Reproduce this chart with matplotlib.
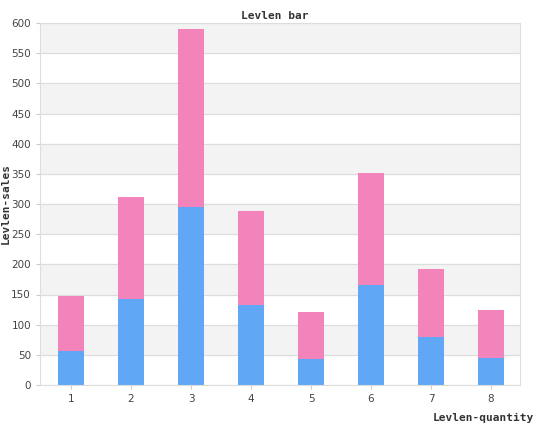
import matplotlib
matplotlib.use("Agg")
import matplotlib.pyplot as plt

quantity = [1, 2, 3, 4, 5, 6, 7, 8]
sales_a = [56, 143, 295, 133, 43, 166, 80, 44]
sales_b = [92, 169, 295, 156, 78, 186, 113, 81]

fig = plt.figure(figsize=(5.5, 4.25), dpi=100)
ax = fig.add_axes([40 / 550, 40 / 425, 480 / 550, 362 / 425])

for lo in range(50, 600, 100):
    ax.axhspan(lo, lo + 50, color="#f3f3f3", zorder=0)
for y in range(0, 601, 50):
    ax.axhline(y, color="#dddddd", lw=0.8, zorder=1)

ax.bar(quantity, sales_a, width=0.42, color="#60a8f5", zorder=2)
ax.bar(quantity, sales_b, width=0.42, bottom=sales_a, color="#f283bb", zorder=2)

ax.set_xlim(0.483, 8.483)
ax.set_ylim(0, 600)
ax.set_xticks(quantity)
ax.set_yticks(range(0, 601, 50))
ax.tick_params(labelsize=7.5, labelcolor="#444444", length=3, color="#cccccc")
for s in ax.spines.values():
    s.set_color("#dddddd")

fig.text(0.5, 0.975, "Levlen bar", ha="center", va="top", family="DejaVu Sans Mono",
         weight="bold", fontsize=8, color="#333333")
fig.text(0.97, 0.005, "Levlen-quantity", ha="right", va="bottom", family="DejaVu Sans Mono",
         weight="bold", fontsize=8, color="#333333")
fig.text(0.002, 0.52, "Levlen-sales", rotation=90, ha="left", va="center",
         family="DejaVu Sans Mono", weight="bold", fontsize=8, color="#333333")

fig.savefig("out.png", dpi=100)
